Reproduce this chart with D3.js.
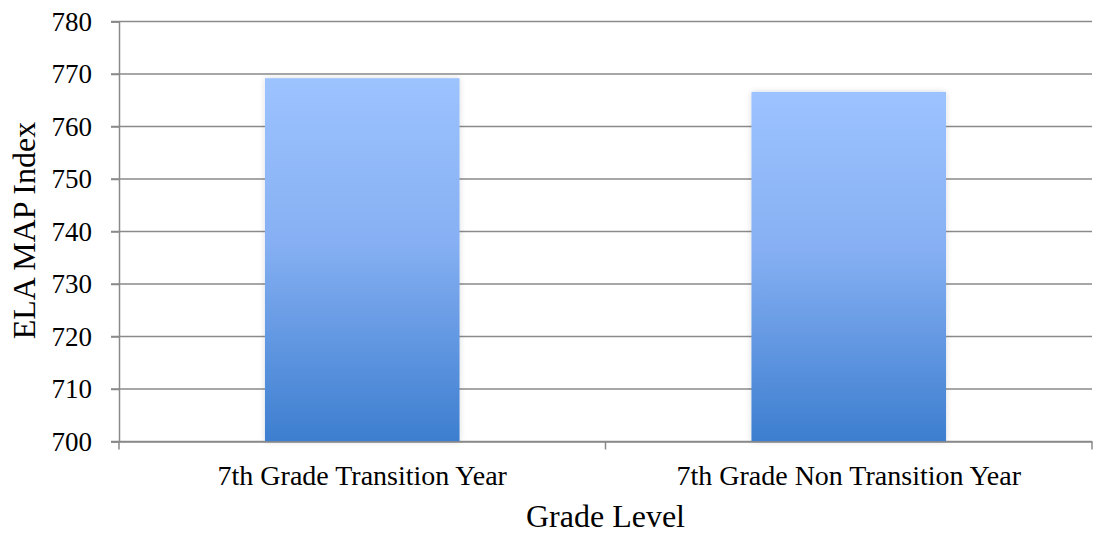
<!DOCTYPE html>
<html><head><meta charset="utf-8">
<script src="https://cdn.jsdelivr.net/npm/d3@7"></script>
<style>body{margin:0;background:#fff;}svg{display:block;}</style>
</head><body>
<svg id="chart" width="1094" height="540"></svg>
<script>
const categories = ["7th Grade Transition Year", "7th Grade Non Transition Year"];
const values = [769.2, 766.6];
const yTicks = [700, 710, 720, 730, 740, 750, 760, 770, 780];
const yTitle = "ELA MAP Index";
const xTitle = "Grade Level";

const svg = d3.select("#chart");
const m = {l:119, r:1092, t:21.5, b:441.5};
const x = d3.scaleBand().domain(categories).range([m.l, m.r]).paddingInner(0.6).paddingOuter(0.3);
const xb = d3.scaleBand().domain(categories).range([m.l, m.r]);
const y = d3.scaleLinear().domain([700, 780]).range([m.b, m.t]);

const defs = svg.append("defs");
const g = defs.append("linearGradient").attr("id","barGrad").attr("x1",0).attr("y1",0).attr("x2",0).attr("y2",1);
g.append("stop").attr("offset","0%").attr("stop-color","#9dc3ff");
g.append("stop").attr("offset","45%").attr("stop-color","#86b0f3");
g.append("stop").attr("offset","100%").attr("stop-color","#3d7ecf");
const f = defs.append("filter").attr("id","sh").attr("x","-10%").attr("y","-10%").attr("width","120%").attr("height","120%");
f.append("feGaussianBlur").attr("in","SourceAlpha").attr("stdDeviation",3);
f.append("feComponentTransfer").append("feFuncA").attr("type","linear").attr("slope",0.15);
const fm = f.append("feMerge"); fm.append("feMergeNode"); fm.append("feMergeNode").attr("in","SourceGraphic");

// gridlines
svg.append("g").selectAll("line").data(yTicks).join("line")
  .attr("x1", m.l - 8).attr("x2", m.r).attr("y1", d=>y(d)).attr("y2", d=>y(d))
  .attr("stroke", "#8a8a8a").attr("stroke-width", 1.5);

// bars
svg.append("g").selectAll("rect").data(values).join("rect")
  .attr("x", (d,i)=>x(categories[i])).attr("width", x.bandwidth())
  .attr("y", d=>y(d)).attr("height", d=>y(700)-y(d))
  .attr("fill","url(#barGrad)").attr("filter","url(#sh)");

// y axis
const ya = svg.append("g").attr("transform",`translate(${m.l},0)`)
  .call(d3.axisLeft(y).tickValues(yTicks).tickSize(8).tickFormat(d3.format("d")));
ya.select(".domain").attr("stroke","#8a8a8a").attr("stroke-width",1.5);
ya.selectAll(".tick line").attr("stroke","#8a8a8a").attr("stroke-width",1.5);
ya.selectAll("text").attr("font-family","'Liberation Serif', serif").attr("font-size",27)
  .attr("fill","#000").attr("x",-27).attr("dy","0.33em");

// x axis
const xa = svg.append("g").attr("transform",`translate(0,${m.b})`)
  .call(d3.axisBottom(xb).tickSize(0));
xa.select(".domain").attr("stroke","#8a8a8a").attr("stroke-width",1.5);
xa.selectAll("text").attr("font-family","'Liberation Serif', serif").attr("font-size",28)
  .attr("fill","#000").attr("y",43.5).attr("dy",0);
const bounds = [m.l, ...categories.map(c=>xb(c)+xb.bandwidth())];
svg.append("g").selectAll("line").data(bounds).join("line")
  .attr("x1",d=>d).attr("x2",d=>d).attr("y1",m.b).attr("y2",m.b+8)
  .attr("stroke","#8a8a8a").attr("stroke-width",1.5);

// titles
svg.append("text").attr("x",605.5).attr("y",527).attr("text-anchor","middle")
  .attr("font-family","'Liberation Serif', serif").attr("font-size",32).text(xTitle);
svg.append("text").attr("transform",`translate(35,230.5) rotate(-90)`).attr("text-anchor","middle")
  .attr("font-family","'Liberation Serif', serif").attr("font-size",32).text(yTitle);
</script>
</body></html>
